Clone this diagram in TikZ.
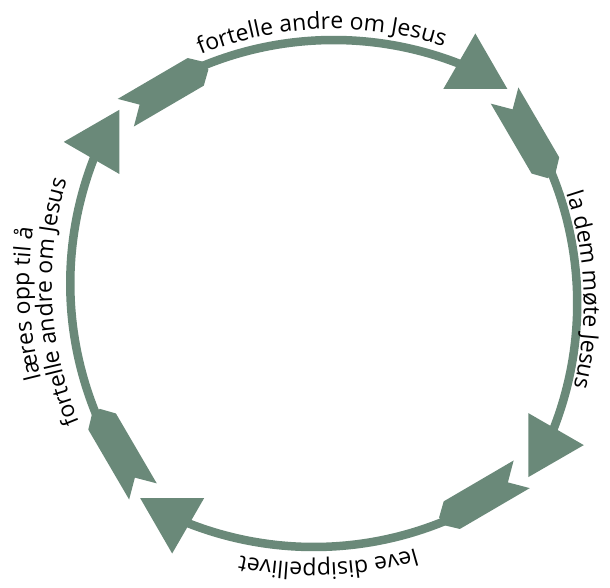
\documentclass[tikz,border=0pt]{standalone}
\usepackage{fontspec}
\newfontfamily\osans{Open Sans}
\usetikzlibrary{decorations.text}
\definecolor{arrowgreen}{RGB}{106,137,121}
\newcommand\tfont{\osans\fontsize{23}{23}\selectfont}
\begin{document}
\begin{tikzpicture}[x=1pt,y=1pt,
  ring/.style={draw=arrowgreen, line width=8.5pt},
  fletch/.style={fill=arrowgreen},
  head/.style={fill=arrowgreen},
  curvedlabel/.style={decorate, decoration={text along path, text align=center, text={#1}}}
]
\useasboundingbox (0,0) rectangle (610,587);
\coordinate (O) at (323.75,293.5);
\foreach \k in {0,1,2,3}{
  \begin{scope}[shift={(O)}, rotate=-90*\k]
    \coordinate (ac\k) at (10,-90.5);
    \draw[ring] (ac\k) ++(113:344) arc[start angle=113, end angle=65.7, radius=344];
    \begin{scope}[shift={(-197.95,180.8)}, rotate=30.3]
      \fill[fletch] (0,16) -- (81,16) -- (93,4.5) -- (93,-4.5) -- (81,-16) -- (0,-16) -- (16,0) -- cycle;
    \end{scope}
    \fill[head] (183.64,204.5) -- (151.6,260) -- (119.56,204.5) -- cycle;
  \end{scope}
}
% labels
\coordinate (ctop) at (333.75,203);
\coordinate (cright) at (233.25,283.5);
\coordinate (cbot) at (313.75,384);
\coordinate (cleft) at (414.25,303.5);
\path[curvedlabel={|\tfont|fortelle andre om Jesus}] (ctop) ++(137:355) arc[start angle=137, end angle=47, radius=355];
\path[curvedlabel={|\tfont|la dem møte Jesus}] (cright) ++(47.2:350.5) arc[start angle=47.2, end angle=-42.8, radius=350.5];
\path[curvedlabel={|\tfont|leve disippellivet}] (cbot) ++(317.3:360) arc[start angle=317.3, end angle=227.3, radius=360];
\path[curvedlabel={|\tfont|fortelle andre om Jesus}] (cleft) ++(233:362.5) arc[start angle=233, end angle=133, radius=362.5];
\path[curvedlabel={|\tfont|læres opp til å}] (cleft) ++(233:385) arc[start angle=233, end angle=133, radius=385];
\end{tikzpicture}
\end{document}
